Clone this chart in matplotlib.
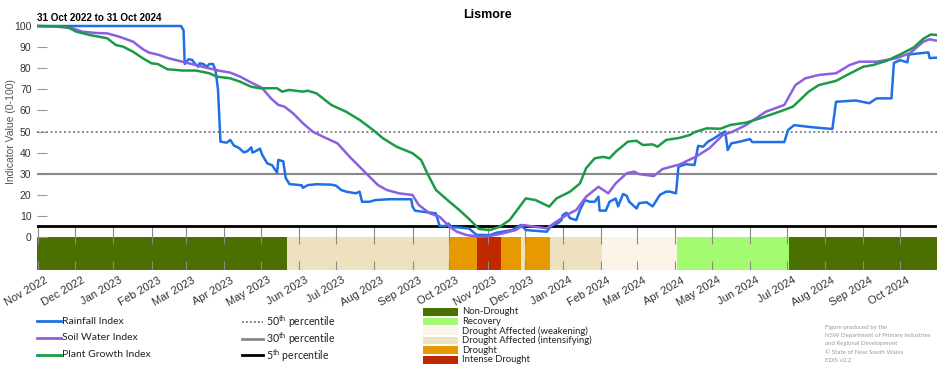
import matplotlib
matplotlib.use("Agg")
import matplotlib.pyplot as plt
import matplotlib.dates as mdates
import matplotlib.transforms as mtransforms
from matplotlib.lines import Line2D
from matplotlib.patches import Rectangle
import pandas as pd

plt.rcParams['font.family'] = ['Liberation Sans', 'DejaVu Sans']
plt.rcParams['mathtext.default'] = 'regular'

# --- data ---
rain_dates = ["2022-10-31", "2023-02-25", "2023-02-27", "2023-02-28", "2023-03-03", "2023-03-06",
              "2023-03-08", "2023-03-11", "2023-03-12", "2023-03-15", "2023-03-18", "2023-03-20",
              "2023-03-23", "2023-03-25", "2023-03-27", "2023-03-29", "2023-04-03", "2023-04-06",
              "2023-04-09", "2023-04-13", "2023-04-17", "2023-04-20", "2023-04-23", "2023-04-24",
              "2023-04-27", "2023-04-30", "2023-05-02", "2023-05-06", "2023-05-10", "2023-05-14",
              "2023-05-15", "2023-05-19", "2023-05-21", "2023-05-24", "2023-06-03", "2023-06-04",
              "2023-06-08", "2023-06-15", "2023-06-27", "2023-07-01", "2023-07-05", "2023-07-09",
              "2023-07-17", "2023-07-20", "2023-07-22", "2023-07-28", "2023-08-02", "2023-08-13",
              "2023-08-31", "2023-09-01", "2023-09-03", "2023-09-09", "2023-09-20", "2023-09-23",
              "2023-09-28", "2023-09-30", "2023-10-03", "2023-10-09", "2023-10-17", "2023-10-23",
              "2023-11-03", "2023-11-08", "2023-11-21", "2023-11-28", "2023-12-02", "2023-12-19",
              "2023-12-21", "2023-12-24", "2023-12-28", "2023-12-31", "2024-01-01", "2024-01-04",
              "2024-01-07", "2024-01-12", "2024-01-15", "2024-01-19", "2024-01-23", "2024-01-27",
              "2024-01-30", "2024-01-31", "2024-02-05", "2024-02-08", "2024-02-13", "2024-02-15",
              "2024-02-19", "2024-02-22", "2024-02-24", "2024-03-01", "2024-03-03", "2024-03-09",
              "2024-03-14", "2024-03-20", "2024-03-25", "2024-03-28", "2024-04-02", "2024-04-04",
              "2024-04-10", "2024-04-17", "2024-04-20", "2024-04-24", "2024-04-28", "2024-05-03",
              "2024-05-09", "2024-05-12", "2024-05-14", "2024-05-17", "2024-05-24", "2024-06-01",
              "2024-06-03", "2024-06-29", "2024-07-02", "2024-07-07", "2024-07-22", "2024-08-07",
              "2024-08-10", "2024-08-26", "2024-09-06", "2024-09-12", "2024-09-24", "2024-09-26",
              "2024-10-01", "2024-10-07", "2024-10-08", "2024-10-24", "2024-10-25", "2024-10-31"]
rain_vals = [100, 100, 98, 82, 84.2, 84, 82.3, 80.7, 82.3, 82, 80.7, 82,
             82, 79, 70, 45.2, 44.7, 46, 43.3, 42.2, 40.1, 40.7, 42.5, 40,
             40.8, 41.9, 38.9, 34.9, 34, 30.5, 36.5, 35.9, 28, 25.1, 24.5, 23.3,
             24.6, 25, 24.8, 24.3, 22.3, 21.5, 20.7, 21.5, 16.7, 16.7, 17.5, 17.9,
             17.9, 14.4, 12.5, 12, 11.2, 5.2, 5.2, 6.4, 4.7, 4.5, 4, 1,
             0.9, 2, 3.3, 5.7, 3.3, 2.5, 4.1, 5.7, 6.5, 8, 10.4, 11.5,
             8.9, 8, 12.8, 17.5, 16.7, 16.7, 19.1, 12.5, 12.5, 16.7, 18.2, 14.5,
             20.4, 19.5, 16.7, 13.5, 16, 16.5, 14.5, 20, 21.5, 21.5, 20.7, 33.3,
             34.5, 34.1, 43.2, 42.8, 45.2, 46.8, 49.1, 50, 41.2, 44.4, 45.2, 46.4,
             45, 45, 50.7, 53, 52, 51.2, 64.1, 64.7, 63.4, 65.7, 65.7, 82.5,
             83.8, 82.8, 86.5, 87.5, 84.8, 85]

soil_dates = ["2022-10-31", "2022-11-14", "2022-11-29", "2022-12-07", "2022-12-18", "2022-12-27",
              "2023-01-06", "2023-01-17", "2023-01-25", "2023-01-30", "2023-02-07", "2023-02-15",
              "2023-02-26", "2023-03-09", "2023-03-20", "2023-03-28", "2023-04-06", "2023-04-14",
              "2023-04-23", "2023-04-30", "2023-05-02", "2023-05-09", "2023-05-15", "2023-05-20",
              "2023-05-27", "2023-06-04", "2023-06-12", "2023-06-23", "2023-07-02", "2023-07-12",
              "2023-07-20", "2023-07-28", "2023-08-04", "2023-08-11", "2023-08-21", "2023-09-01",
              "2023-09-06", "2023-09-15", "2023-09-23", "2023-10-01", "2023-10-07", "2023-10-15",
              "2023-10-26", "2023-11-03", "2023-11-13", "2023-11-24", "2023-11-30", "2023-12-05",
              "2023-12-19", "2023-12-27", "2024-01-04", "2024-01-12", "2024-01-20", "2024-01-30",
              "2024-02-07", "2024-02-13", "2024-02-22", "2024-02-28", "2024-03-03", "2024-03-15",
              "2024-03-22", "2024-04-05", "2024-04-18", "2024-04-29", "2024-05-10", "2024-05-18",
              "2024-05-29", "2024-06-14", "2024-06-29", "2024-07-08", "2024-07-16", "2024-07-27",
              "2024-08-10", "2024-08-21", "2024-08-29", "2024-09-12", "2024-09-20", "2024-09-28",
              "2024-10-09", "2024-10-20", "2024-10-25", "2024-10-31"]
soil_vals = [100, 99.8, 98.9, 97.3, 96.7, 96.5, 94.9, 92.6, 89, 87.4, 86.3, 84.7,
             83.1, 81.5, 79.9, 78.8, 77.9, 76, 73.2, 71.2, 70.5, 65.7, 62.6, 61.8,
             58.6, 53.9, 49.9, 46.8, 44.4, 38, 33.3, 28.6, 24.6, 22.3, 20.7, 19.9,
             15.2, 11.2, 9.6, 4.9, 2.5, 0.9, 0.1, 0.5, 1.7, 3.3, 5.7, 5.2,
             4.1, 7.3, 10.4, 12.8, 19.1, 23.8, 20.7, 25.4, 30.2, 31, 29.8, 28.9,
             32.2, 34.4, 38, 42, 48.3, 49.9, 53.1, 59.4, 62.6, 72, 75.2, 76.8,
             77.6, 81.5, 83.1, 83.1, 83.9, 84.7, 87.1, 92.6, 93.7, 93]

plant_dates = ["2022-10-31", "2022-11-24", "2022-12-02", "2022-12-13", "2022-12-27", "2023-01-03",
               "2023-01-09", "2023-01-17", "2023-01-25", "2023-02-01", "2023-02-06", "2023-02-14",
               "2023-02-26", "2023-03-09", "2023-03-20", "2023-03-26", "2023-04-06", "2023-04-14",
               "2023-04-23", "2023-04-30", "2023-05-14", "2023-05-18", "2023-05-24", "2023-06-04",
               "2023-06-08", "2023-06-15", "2023-06-27", "2023-07-09", "2023-07-20", "2023-07-31",
               "2023-08-08", "2023-08-19", "2023-09-01", "2023-09-08", "2023-09-13", "2023-09-20",
               "2023-10-01", "2023-10-09", "2023-10-17", "2023-10-25", "2023-11-03", "2023-11-11",
               "2023-11-19", "2023-11-26", "2023-12-02", "2023-12-10", "2023-12-21", "2023-12-27",
               "2024-01-07", "2024-01-15", "2024-01-20", "2024-01-27", "2024-02-03", "2024-02-08",
               "2024-02-13", "2024-02-23", "2024-03-01", "2024-03-06", "2024-03-14", "2024-03-18",
               "2024-03-25", "2024-04-05", "2024-04-13", "2024-04-18", "2024-04-27", "2024-05-08",
               "2024-05-16", "2024-05-29", "2024-06-09", "2024-06-25", "2024-07-06", "2024-07-19",
               "2024-07-27", "2024-08-10", "2024-08-18", "2024-09-01", "2024-09-09", "2024-09-20",
               "2024-10-01", "2024-10-12", "2024-10-20", "2024-10-26", "2024-10-31"]
plant_vals = [100, 99.7, 97.3, 95.7, 94.2, 91, 90.2, 87.8, 84.7, 82.3, 82, 79.5,
              78.9, 78.9, 77.6, 76, 75.2, 73.6, 71.2, 70.5, 70.5, 68.9, 69.7, 68.9,
              69.3, 68.1, 62.6, 59.4, 55.5, 50.7, 46.8, 42.8, 39.7, 36.5, 30.2, 22.3,
              16.7, 12.8, 8.5, 3.8, 3.3, 4.9, 8.1, 13.6, 18.3, 17.5, 14.4, 18.3,
              21.5, 25.4, 32.6, 37.3, 38, 37.3, 40.4, 45.2, 45.6, 43.6, 43.9, 42.8,
              46, 47, 48.3, 49.9, 51.5, 51.3, 53.1, 54.2, 56.2, 59.4, 61.8, 69,
              72, 74, 76.5, 80.7, 81.5, 83.5, 86.5, 89.8, 94, 96, 95.7]

# drought category timeline
cat_starts = ["2022-10-31", "2023-05-22", "2023-10-01", "2023-10-23", "2023-11-12", "2023-11-28",
              "2023-12-01", "2023-12-22", "2024-02-02", "2024-04-03", "2024-07-03"]
cat_ends = ["2023-05-22", "2023-10-01", "2023-10-23", "2023-11-12", "2023-11-28", "2023-12-01",
            "2023-12-22", "2024-02-02", "2024-04-03", "2024-07-03", "2024-10-31"]
cat_names = ["Non-Drought", "Drought Affected (intensifying)", "Drought", "Intense Drought", "Drought",
             "Drought Affected (intensifying)", "Drought", "Drought Affected (intensifying)",
             "Drought Affected (weakening)", "Recovery", "Non-Drought"]

legend_cats = ["Non-Drought", "Recovery", "Drought Affected (weakening)",
               "Drought Affected (intensifying)", "Drought", "Intense Drought"]
cat_colors = {"Non-Drought": "#4b7000", "Recovery": "#a3fb70",
              "Drought Affected (weakening)": "#fdf4e8",
              "Drought Affected (intensifying)": "#eee1bf",
              "Drought": "#e69a00", "Intense Drought": "#c02800"}

series_names = ["Rainfall Index", "Soil Water Index", "Plant Growth Index"]
series_colors = ["#1f6fe6", "#8d5fe0", "#1b9a48"]
pct_levels = [50, 30, 5]

# --- figure ---
W, H = 952, 370
fig = plt.figure(figsize=(W / 100, H / 100), dpi=100)
ymin, ymax = -15.5, 101
ax = fig.add_axes([37 / W, (H - 269.7) / H, 900 / W, 245.8 / H])

t0, t1 = pd.Timestamp("2022-10-31"), pd.Timestamp("2024-10-31")
ax.set_xlim(t0, t1)
ax.set_ylim(ymin, ymax)

# drought band
for s, e, n in zip(cat_starts, cat_ends, cat_names):
    ax.fill_between([pd.Timestamp(s), pd.Timestamp(e)], ymin, 0, color=cat_colors[n],
                    linewidth=0, zorder=1)

# month grid lines in lower strip
months = pd.date_range("2022-11-01", "2024-10-01", freq="MS")
ax.vlines(months, -3.5, 5, color="#8a8a8a", lw=0.8, zorder=2)
ax.vlines(months, ymin, -11.5, color="#8a8a8a", lw=0.8, zorder=2)
ax.hlines(-7.5, t0, t0 + pd.Timedelta(days=6), color="#555", lw=0.8, zorder=2)
ax.hlines(-7.5, t1 - pd.Timedelta(days=6), t1, color="#555", lw=0.8, zorder=2)

# percentile lines
ax.axhline(pct_levels[0], color="#777", lw=1.3, ls=(0, (1, 1.5)), zorder=2)
ax.axhline(pct_levels[1], color="#888", lw=1.5, zorder=2)
ax.axhline(pct_levels[2], color="black", lw=2.0, zorder=2)

for d, v, c in zip([rain_dates, soil_dates, plant_dates], [rain_vals, soil_vals, plant_vals],
                   series_colors):
    ax.plot(pd.to_datetime(d), v, color=c, lw=1.8, zorder=4, solid_joinstyle="round")

for sp in ax.spines.values():
    sp.set_visible(False)

ax.set_yticks(range(0, 101, 10))
ax.tick_params(axis="y", direction="in", length=7, color="#999", labelsize=7.5,
               labelcolor="#333", pad=4)
ax.tick_params(axis="x", length=0, labelsize=8, labelcolor="#333", pad=4)
ax.set_xticks(months)
ax.xaxis.set_major_formatter(mdates.DateFormatter("%b %Y"))
shift = mtransforms.ScaledTranslation(6 / 100, 0, fig.dpi_scale_trans)
for lab in ax.get_xticklabels():
    lab.set_rotation(30)
    lab.set_ha("right")
    lab.set_rotation_mode("anchor")
    lab.set_transform(lab.get_transform() + shift)

fig.text(11 / W, 1 - 132 / H, "Indicator Value (0-100)", rotation=90, ha="center",
         va="center", fontsize=7.5, color="#555")
fig.text(487 / W, 1 - 15 / H, "Lismore", ha="center", va="center", fontsize=9,
         fontweight="bold")
fig.text(37 / W, 1 - 18 / H, "31 Oct 2022 to 31 Oct 2024", ha="left", va="center",
         fontsize=7.1, fontweight="bold")


def fx(x):
    return x / W


def fy(y):
    return 1 - y / H


leg_font = ["Lato", "DejaVu Sans"]

# legend: index lines
for i, (n, c) in enumerate(zip(series_names, series_colors)):
    y = 321 + i * 16.8
    fig.add_artist(Line2D([fx(37), fx(61)], [fy(y), fy(y)], color=c, lw=2))
    fig.text(fx(62), fy(y), n, ha="left", va="center", fontsize=7.5, color="#222",
             family=leg_font)

# legend: percentiles
pct_styles = [dict(color="#777", lw=1.3, ls=(0, (1, 1.2))), dict(color="#888", lw=2),
              dict(color="black", lw=2)]
for i, (p, st) in enumerate(zip(pct_levels, pct_styles)):
    y = 322 + i * 16.7
    fig.add_artist(Line2D([fx(242), fx(263)], [fy(y), fy(y)], **st))
    fig.text(fx(266), fy(y), f"{p}$^{{th}}$ percentile", ha="left", va="center",
             fontsize=7.6, color="#222", family=leg_font)

# legend: drought categories
for i, n in enumerate(legend_cats):
    y = 311.7 + i * 9.6
    fig.add_artist(Rectangle((fx(423), fy(y + 3.8)), 35 / W, 7.6 / H,
                             facecolor=cat_colors[n], edgecolor="none"))
    fig.text(fx(462), fy(y), n, ha="left", va="center", fontsize=6.8, color="#222",
             family=leg_font)

footer = ["Figure produced by the", "NSW Department of Primary Industries",
          "and Regional Development", "\u00a9 State of New South Wales", "EDIS v2.2"]
for i, t in enumerate(footer):
    fig.text(fx(825), fy(327.3 + i * 8.25), t, ha="left", va="center", fontsize=4.4,
             color="#999", family=leg_font)

fig.savefig("out.png", dpi=100)
